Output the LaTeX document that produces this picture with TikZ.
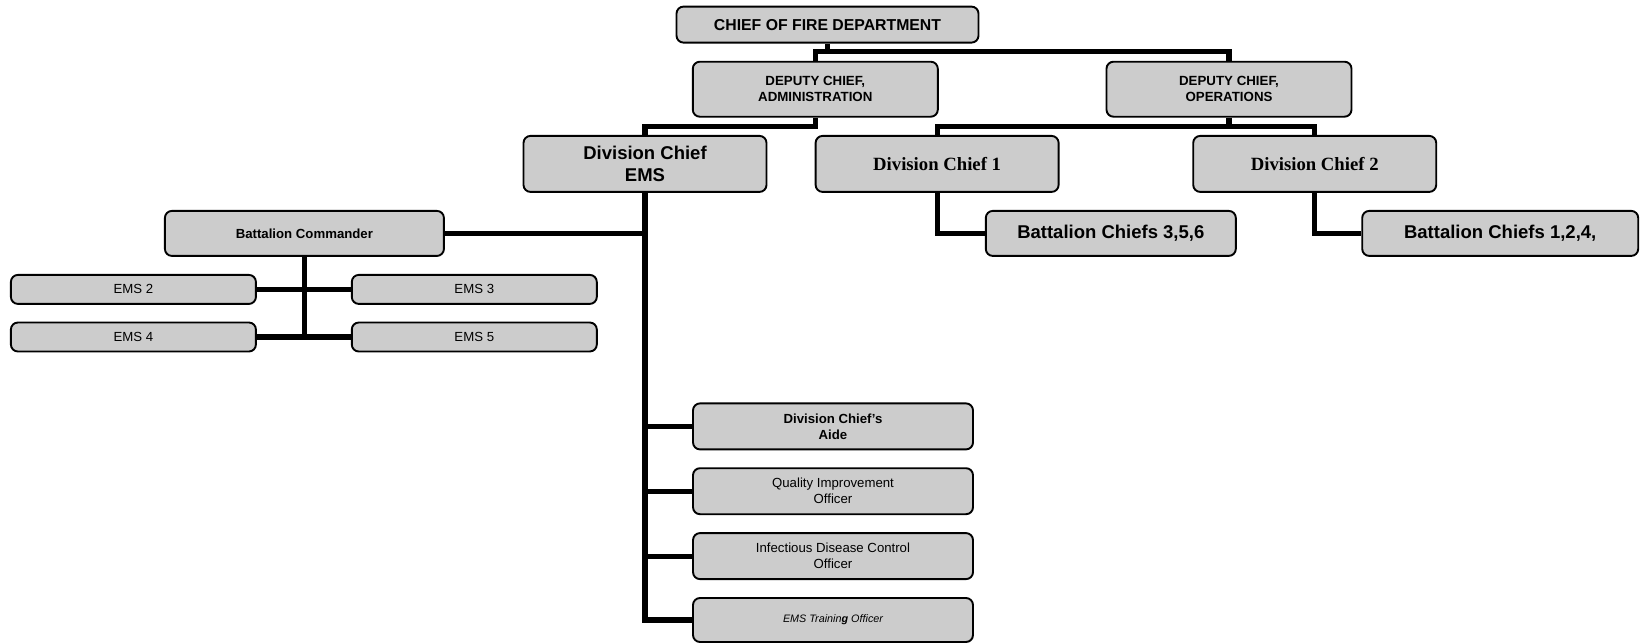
\documentclass[tikz,border=0pt]{standalone}
\usepackage{fontspec}
\setmainfont{Liberation Sans}
\newfontfamily\timesfont{Liberation Serif}

\begin{document}
\begin{tikzpicture}[x=1pt,y=-1pt,line join=miter]
	\tikzstyle{box}=[draw,line width=1.9pt,rounded corners=7pt,fill=black!20,align=center,inner sep=0pt];
	\tikzstyle{link}=[line width=5.2pt];
	\tikzstyle{big}=[font=\bfseries\fontsize{18.5}{22}\selectfont];
	\tikzstyle{small}=[font=\fontsize{13.2}{16}\selectfont];
	\tikzstyle{smallb}=[font=\bfseries\fontsize{13.2}{16}\selectfont];

	\useasboundingbox (0,0) rectangle (1640,643);

	% top levels
	\node[box,minimum width=302pt,minimum height=36pt,font=\bfseries\fontsize{15.8}{18}\selectfont] (chief) at (827.5,24.6) {CHIEF OF FIRE DEPARTMENT};
	\node[box,minimum width=245pt,minimum height=55pt,font=\bfseries\fontsize{13.3}{16}\selectfont] (admdep) at (815.3,89.2) {DEPUTY CHIEF,\\ADMINISTRATION};
	\node[box,minimum width=245pt,minimum height=55pt,font=\bfseries\fontsize{13.3}{16}\selectfont] (opsdep) at (1229,89.2) {DEPUTY CHIEF,\\OPERATIONS};
	\node[box,big,minimum width=243pt,minimum height=56pt] (divems) at (645,163.9) {Division Chief\\EMS};
	\node[box,minimum width=243pt,minimum height=56pt,font=\timesfont\bfseries\fontsize{18.7}{21}\selectfont] (div1) at (937.1,163.9) {Division Chief 1};
	\node[box,minimum width=243pt,minimum height=56pt,font=\timesfont\bfseries\fontsize{18.7}{21}\selectfont] (div2) at (1314.7,163.9) {Division Chief 2};
	\node[box,big,minimum width=250pt,minimum height=45pt] (bc356) at (1110.8,233.4) {Battalion Chiefs 3,5,6};
	\node[box,big,minimum width=276pt,minimum height=45pt] (bc124) at (1500.2,233.4) {Battalion Chiefs 1,2,4,};

	% EMS side
	\node[box,smallb,minimum width=279pt,minimum height=45pt] (bcmdr) at (304.4,233.4) {Battalion Commander};
	\node[box,small,minimum width=245pt,minimum height=29pt] (ems2) at (133.4,289.4) {EMS 2};
	\node[box,small,minimum width=245pt,minimum height=29pt] (ems3) at (474.3,289.4) {EMS 3};
	\node[box,small,minimum width=245pt,minimum height=29pt] (ems4) at (133.4,337) {EMS 4};
	\node[box,small,minimum width=245pt,minimum height=29pt] (ems5) at (474.3,337) {EMS 5};
	\node[box,smallb,minimum width=280pt,minimum height=46pt] (aide) at (833,426.4) {Division Chief's\\Aide};
	\node[box,small,minimum width=280pt,minimum height=46pt] (qio) at (833,491.2) {Quality Improvement\\Officer};
	\node[box,small,minimum width=280pt,minimum height=46pt] (idco) at (833,556.1) {Infectious Disease Control\\Officer};
	\node[box,minimum width=280pt,minimum height=44pt,font=\itshape\fontsize{10.8}{13}\selectfont] (train) at (833,620) {EMS Trainin{\bfseries g} Officer};

	\coordinate (topbar) at (0,51.6);
	\coordinate (admbar) at (815.3,126.7);
	\coordinate (opsbar) at (1229,126.7);

	% links
	\draw[link] (chief.south) -- (chief.south |- topbar);
	\draw[link] (admdep.north) |- (topbar -| opsdep.north) -- (opsdep.north);
	\draw[link] (admdep.south) -- (admbar) -| (divems.north);
	\draw[link] (opsdep.south) -- (opsbar);
	\draw[link] (div1.north) |- (opsbar) -| (div2.north);
	\draw[link] (div1.south) |- (bc356.west);
	\draw[link] (div2.south) |- (bc124.west);
	\draw[link] (divems.south) |- (train.west);
	\draw[link] (bcmdr.east) -- (divems.south |- bcmdr.east);
	\foreach \n in {aide,qio,idco}
		\draw[link] (divems.south |- \n.west) -- (\n.west);
	\draw[link] (bcmdr.south) -- (bcmdr.south |- ems4.east);
	\draw[link] (ems2.east) -- (ems3.west);
	\draw[link] (ems4.east) -- (ems5.west);
\end{tikzpicture}
\end{document}
